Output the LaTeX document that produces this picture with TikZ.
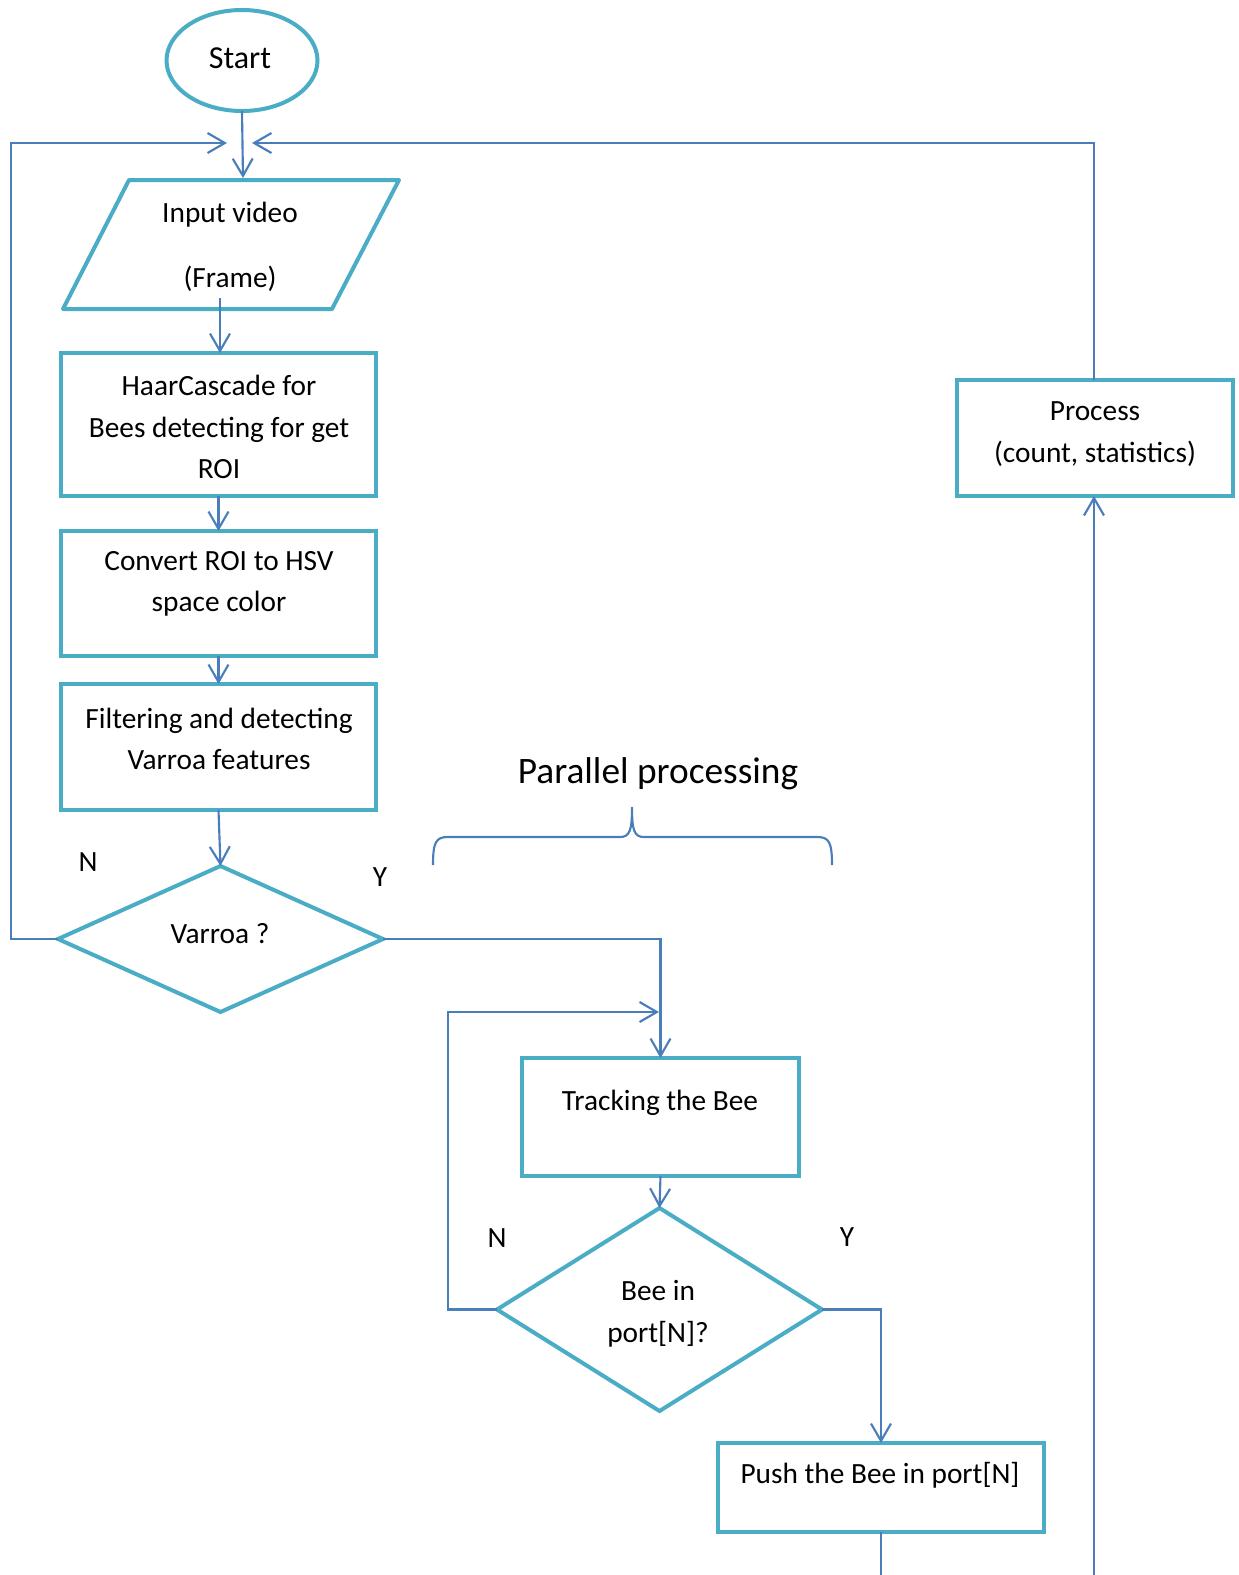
\documentclass[tikz,border=0pt]{standalone}
\usepackage{fontspec}
\setmainfont{Carlito}
\usetikzlibrary{shapes.geometric,arrows.meta,fit}
\definecolor{boxc}{HTML}{4BACC6}
\definecolor{connc}{HTML}{4A7EBB}
\begin{document}
\begin{tikzpicture}[x=0.375pt,y=-0.375pt,
  box/.style={draw=boxc,line width=1.5pt,inner sep=0pt,outer sep=0pt,rectangle},
  dia/.style={draw=boxc,line width=1.5pt,diamond,inner sep=0pt,outer sep=0pt},
  conn/.style={draw=connc,line width=0.8pt},
  arr/.style={conn,-{Straight Barb[length=6.5pt,width=7.5pt,line width=0.8pt]}},
  txt/.style={font=\fontsize{11pt}{15.6pt}\selectfont,align=center,inner sep=0pt},
  yn/.style={font=\fontsize{11pt}{13pt}\selectfont,inner sep=0pt}]
\useasboundingbox (0,0) rectangle (1239,1575);

% start
\node[draw=boxc,line width=1.5pt,ellipse,inner sep=0pt,outer sep=0pt,
  minimum width=151*0.375pt,minimum height=101*0.375pt] (start) at (242,60.5) {};
\node[txt,font=\fontsize{12pt}{15.6pt}\selectfont] (starttxt) at (240,58) {Start};

% input parallelogram
\coordinate (pTL) at (129,180);
\coordinate (pTR) at (399,180);
\coordinate (pBR) at (332,309);
\coordinate (pBL) at (63,309);
\draw[boxc,line width=1.5pt,line join=round] (pTL) -- (pTR) -- (pBR) -- (pBL) -- cycle;
\node[txt] (inp) at (230,247) {Input video\\[8.6pt](Frame)};
\coordinate (inTop) at (243,178);
\coordinate (inBot) at (220,298);

% boxes
\node[box,fit={(61,353)(376,496)}] (b1) {};
\node[txt] (b1t) at (219,427) {HaarCascade for\\Bees detecting for get\\ROI};
\node[box,fit={(61,531)(376,656)}] (b2) {};
\node[txt] (b2t) at (219,584) {Convert ROI to HSV\\space color};
\node[box,fit={(61,684)(376,810)}] (b3) {};
\node[txt] (b3t) at (219,739) {Filtering and detecting\\Varroa features};

% decision 1
\node[dia,minimum width=325*0.375pt,minimum height=146*0.375pt] (d1) at (220.5,939) {};
\node[txt] (d1t) at (220,934) {Varroa ?};
\node[yn] (n1) at (88,862) {N};
\node[yn] (y1) at (380,877) {Y};

% process box
\node[box,fit={(957,380)(1233,496)}] (proc) {};
\node[txt] (proct) at (1095,434) {Process\\(count, statistics)};

% parallel processing
\node[font=\fontsize{14pt}{17pt}\selectfont,inner sep=0pt] (par) at (658,774) {Parallel processing};
\draw[conn] (433,865) .. controls (433,842) and (436,837) .. (448,837)
  -- (620,837) .. controls (630,837) and (632,830) .. (632,807)
  .. controls (632,830) and (634,837) .. (644,837)
  -- (817,837) .. controls (829,837) and (832,842) .. (832,865);

% tracking
\node[box,fit={(522,1058)(799,1176)}] (trk) {};
\node[txt] (trkt) at (660,1103) {Tracking the Bee};

% decision 2
\node[dia,minimum width=325*0.375pt,minimum height=203*0.375pt] (d2) at (659.5,1309.5) {};
\node[txt] (d2t) at (658,1314) {Bee in\\port[N]?};
\node[yn] (n2) at (497,1238) {N};
\node[yn] (y2) at (847,1237) {Y};

% push
\node[box,fit={(718,1443)(1044,1532)}] (push) {};
\node[txt] (pusht) at (880,1475) {Push the Bee in port[N]};

% coordinates
\coordinate (jL) at (227,143);
\coordinate (jR) at (252,143);
\coordinate (lx) at (11,143);
\coordinate (lx2) at (448,1012);
\coordinate (jT) at (659,1012);
\coordinate (pb) at (881,1575);
\coordinate (pcb) at (1094,1575);
\coordinate (pct) at (1094,380);

% connectors
\draw[arr] (start.south) -- (inTop);
\draw[arr] (inBot) -- (inBot |- b1.north);
\draw[arr] (b1.south) -- (b2.north);
\draw[arr] (b2.south) -- (b3.north);
\draw[arr] (b3.south) -- (d1.north);
\draw[arr] (d1.west) -| (lx) -- (jL);
\draw[arr] (d1.east) -| (trk.north);
\draw[arr] (d2.west) -| (lx2) -- (jT);
\draw[arr] (trk.south) -- (d2.north);
\draw[arr] (d2.east) -| (push.north);
\draw[conn] (push.south) -- (pb);
\draw[arr] (pcb) -- (pcb |- proc.south);
\draw[arr] (pct) |- (jR);
\end{tikzpicture}
\end{document}
